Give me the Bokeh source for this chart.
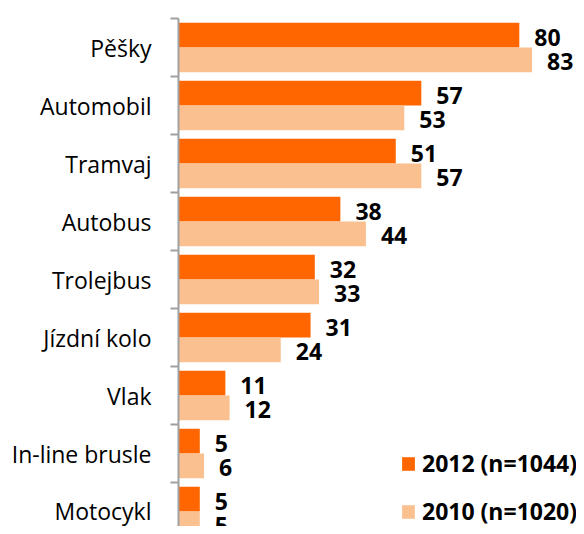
from bokeh.plotting import figure
from bokeh.models import (ColumnDataSource, Range1d, FixedTicker, Legend, LegendItem)
from bokeh.transform import dodge
from bokeh.core.properties import value
from bokeh.embed import file_html
from bokeh.resources import INLINE

categories = ["Pěšky", "Automobil", "Tramvaj", "Autobus", "Trolejbus",
              "Jízdní kolo", "Vlak", "In-line brusle", "Motocykl"]
values_2012 = [80, 57, 51, 38, 32, 31, 11, 5, 5]
values_2010 = [83, 53, 57, 44, 33, 24, 12, 6, 5]
series_names = ["2012 (n=1044)", "2010 (n=1020)"]

DARK = "#FF6600"
LIGHT = "#FAC090"
FONT = "Open Sans"

pos = [i + 0.5 for i in range(len(categories))]
src = ColumnDataSource(dict(
    pos=pos,
    cat=categories,
    v2012=values_2012,
    v2010=values_2010,
    t2012=[str(v) for v in values_2012],
    t2010=[str(v) for v in values_2010],
))

W, H = 576, 526
LEFT, TOP = 178, 18
p = figure(width=W, height=H, output_backend="svg", toolbar_location=None,
           x_range=Range1d(0, (W - LEFT) / 4.26), y_range=Range1d((H - TOP) / 58.0, 0),
           min_border_left=LEFT, min_border_right=0, min_border_top=TOP,
           min_border_bottom=0)
p.outline_line_color = None
p.xaxis.visible = False
p.xgrid.visible = False
p.ygrid.visible = False
p.background_fill_color = "white"
p.border_fill_color = "white"

bh = 0.426
r12 = p.hbar(y=dodge("pos", -bh / 2, range=p.y_range), right="v2012", left=0,
             height=bh, source=src, fill_color=DARK, line_color=None)
r10 = p.hbar(y=dodge("pos", bh / 2, range=p.y_range), right="v2010", left=0,
             height=bh, source=src, fill_color=LIGHT, line_color=None)

for col, txt, off in (("v2012", "t2012", -bh / 2), ("v2010", "t2010", bh / 2)):
    p.text(x=col, y=dodge("pos", off, range=p.y_range), text=txt, source=src,
           x_offset=15, y_offset=2, text_align="left", text_baseline="middle",
           text_font=value(FONT), text_font_style="bold",
           text_font_size="23px", text_color="black")

ax = p.yaxis[0]
ax.ticker = FixedTicker(ticks=pos, minor_ticks=list(range(len(categories) + 1)))
ax.major_label_overrides = {pp: c for pp, c in zip(pos, categories)}
ax.major_tick_out = 0
ax.major_tick_in = 0
ax.minor_tick_out = 8
ax.minor_tick_in = 0
ax.minor_tick_line_color = "#A0A0A0"
ax.minor_tick_line_width = 2
ax.axis_line_color = "#A0A0A0"
ax.axis_line_width = 2
ax.major_label_standoff = 19
ax.major_label_text_font = FONT
ax.major_label_text_font_size = "23px"
ax.major_label_text_color = "black"

legend = Legend(items=[LegendItem(label=series_names[0], renderers=[r12]),
                       LegendItem(label=series_names[1], renderers=[r10])],
                location=(222, -1), orientation="vertical",
                glyph_width=16, glyph_height=17, label_standoff=6,
                spacing=16, padding=0, margin=0,
                label_text_font=FONT, label_text_font_style="bold",
                label_text_font_size="23px", label_text_color="black",
                border_line_color=None, background_fill_alpha=0)
p.add_layout(legend)

open("out.html", "w").write(file_html(p, INLINE))
